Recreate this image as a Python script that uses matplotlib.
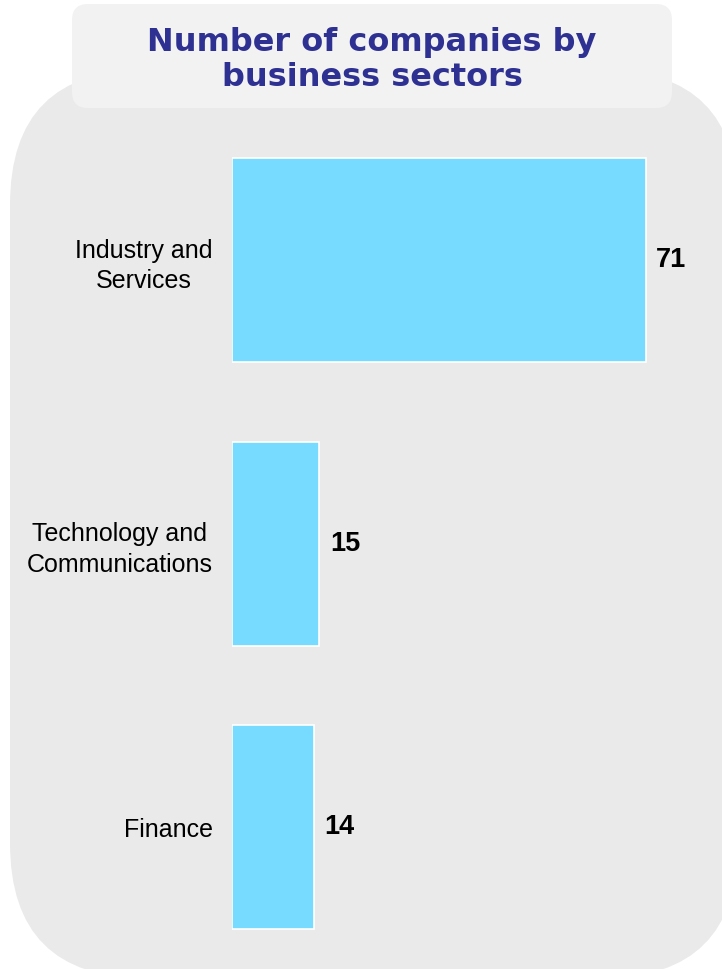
import matplotlib
matplotlib.use('Agg')
import matplotlib.pyplot as plt
import matplotlib.patches as mpatches

plt.rcParams['font.family'] = ['Liberation Sans', 'DejaVu Sans']

sectors = ['Industry and\nServices', 'Technology and\nCommunications', 'Finance']
counts = [71, 15, 14]
title = 'Number of companies by\nbusiness sectors'

W, H = 722, 969
fig = plt.figure(figsize=(W / 100, H / 100), dpi=100)

# background layer in pixel coordinates
bg = fig.add_axes([0, 0, 1, 1])
bg.set_xlim(0, W)
bg.set_ylim(H, 0)
bg.axis('off')

panel = mpatches.FancyBboxPatch((10, 70), 728, 908,
                                boxstyle='round,pad=0,rounding_size=135',
                                facecolor='#eaeaea', edgecolor='none', zorder=0)
bg.add_patch(panel)

title_box = mpatches.FancyBboxPatch((72, 4), 600, 104,
                                    boxstyle='round,pad=0,rounding_size=16',
                                    facecolor='#f2f2f2', edgecolor='none', zorder=1)
bg.add_patch(title_box)
bg.text(372, 60, title, ha='center', va='center', fontsize=23,
        fontweight='bold', color='#2e3192', family=['DejaVu Sans'],
        linespacing=1.18, zorder=2)

# bar chart
ax = fig.add_axes([232 / W, 0, (698 - 232) / W, 850.5 / H])
ax.patch.set_alpha(0)
y = list(range(len(sectors)))
bars = ax.barh(y, counts, height=0.72, color='#77dbff',
               edgecolor='white', linewidth=1.2)
ax.set_xlim(0, 80)
ax.set_ylim(2.5, -0.5)
ax.set_yticks(y)
ax.set_yticklabels(sectors, fontsize=18, multialignment='center',
                   linespacing=1.35)
ax.tick_params(axis='y', length=0, pad=14)
ax.set_xticks([])
for s in ax.spines.values():
    s.set_visible(False)

for b, v in zip(bars, counts):
    ax.annotate(str(v), (v, b.get_y() + b.get_height() / 2),
                xytext=(7.5, 0), textcoords='offset points',
                ha='left', va='center', fontsize=19.5, fontweight='bold',
                color='black', annotation_clip=False)

fig.savefig('out.png', dpi=100, facecolor='white')
